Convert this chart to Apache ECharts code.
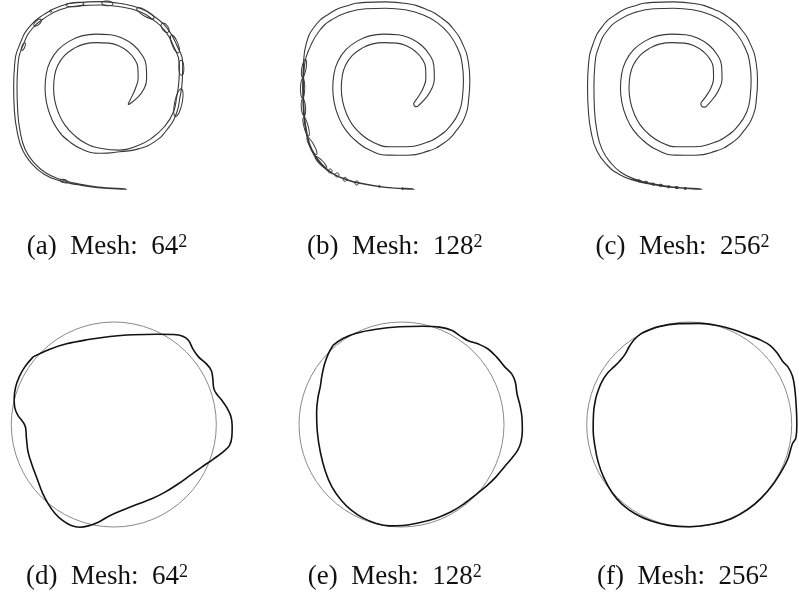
<!DOCTYPE html>
<html>
<head>
<meta charset="utf-8">
<script src="https://cdn.jsdelivr.net/npm/echarts@6/dist/echarts.min.js"></script>
<style>
  html, body { margin: 0; padding: 0; background: #ffffff; }
  #chart { width: 799px; height: 596px; }
</style>
</head>
<body>
<div id="chart"></div>
<script>
// ---- Sub-figure captions ----
const subLabels = ['(a)', '(b)', '(c)', '(d)', '(e)', '(f)'];
const meshSizes = [64, 128, 256, 64, 128, 256];

// ---- Stretched interface (top row): centre line of the spiral filament ----
// from the inner tip (first point) to the end of the outer tail (last point)
const centreX = [0.4825, 0.505, 0.524, 0.534, 0.5325, 0.5175, 0.49, 0.455, 0.411, 0.361,
  0.311, 0.2675, 0.23, 0.2025, 0.189, 0.185, 0.19, 0.205, 0.23, 0.2675,
  0.3175, 0.38, 0.449, 0.5175, 0.574, 0.621, 0.655, 0.6675, 0.671, 0.666,
  0.6475, 0.614, 0.5675, 0.511, 0.4425, 0.3675, 0.2925, 0.224, 0.161, 0.111,
  0.0775, 0.061, 0.0575, 0.06, 0.07, 0.09, 0.124, 0.1675, 0.224, 0.2925,
  0.3675, 0.474];
const centreY = [0.36, 0.3875, 0.419, 0.456, 0.50, 0.5375, 0.569, 0.591, 0.604, 0.606,
  0.60, 0.581, 0.5525, 0.5125, 0.469, 0.419, 0.369, 0.319, 0.2725, 0.2325,
  0.20, 0.184, 0.184, 0.1975, 0.225, 0.269, 0.325, 0.3875, 0.45, 0.5125,
  0.575, 0.631, 0.675, 0.706, 0.725, 0.731, 0.729, 0.716, 0.6875, 0.644,
  0.581, 0.506, 0.425, 0.3375, 0.256, 0.1875, 0.1375, 0.10, 0.075, 0.059,
  0.0475, 0.04];
// on the coarsest mesh the outer turn sits slightly further out
const centreX64 = [0.4825, 0.505, 0.524, 0.534, 0.5325, 0.5175, 0.49, 0.455, 0.411, 0.361,
  0.311, 0.2675, 0.23, 0.2025, 0.189, 0.185, 0.19, 0.205, 0.23, 0.2675,
  0.3175, 0.38, 0.449, 0.5175, 0.574, 0.621, 0.655, 0.669, 0.6775, 0.679,
  0.656, 0.6225, 0.5775, 0.525, 0.45, 0.375, 0.2925, 0.225, 0.169, 0.119,
  0.0825, 0.061, 0.0575, 0.06, 0.07, 0.09, 0.124, 0.1675, 0.224, 0.2925,
  0.3675, 0.474];
const centreY64 = [0.36, 0.3875, 0.419, 0.456, 0.50, 0.5375, 0.569, 0.591, 0.604, 0.606,
  0.60, 0.581, 0.5525, 0.5125, 0.469, 0.419, 0.369, 0.319, 0.2725, 0.2325,
  0.20, 0.184, 0.184, 0.1975, 0.225, 0.269, 0.325, 0.3875, 0.45, 0.506,
  0.581, 0.64, 0.681, 0.7125, 0.731, 0.7375, 0.734, 0.72, 0.691, 0.65,
  0.5875, 0.506, 0.425, 0.3375, 0.256, 0.1875, 0.1375, 0.10, 0.075, 0.059,
  0.0475, 0.04];

// filament thickness along the centre line, one list per mesh
const thicknessA = [0.004, 0.02, 0.03, 0.032, 0.032, 0.032, 0.032, 0.032, 0.032, 0.032,
  0.032, 0.032, 0.032, 0.032, 0.032, 0.032, 0.032, 0.032, 0.032, 0.03,
  0.026, 0.018, 0.006, 0.012, 0.017, 0.015, 0.0125, 0.0125, 0.0125, 0.0125,
  0.0125, 0.0125, 0.0125, 0.0125, 0.0125, 0.0125, 0.0125, 0.0125, 0.0125, 0.0125,
  0.0125, 0.0125, 0.0125, 0.0125, 0.011, 0.01, 0.009, 0.008, 0.006, 0.004,
  0.0025, 0.001];
const thicknessB = [0.02, 0.026, 0.03, 0.032, 0.032, 0.032, 0.032, 0.032, 0.032, 0.032,
  0.032, 0.032, 0.032, 0.032, 0.032, 0.032, 0.032, 0.032, 0.032, 0.032,
  0.032, 0.032, 0.032, 0.032, 0.032, 0.029, 0.027, 0.024, 0.024, 0.024,
  0.024, 0.024, 0.024, 0.024, 0.024, 0.024, 0.024, 0.024, 0.024, 0.024,
  0.018, 0.004, 0.003, 0.003, 0.003, 0.003, 0.003, 0.002, 0.0015, 0.001,
  0.001, 0.001];
const thicknessC = [0.024, 0.027, 0.03, 0.032, 0.032, 0.032, 0.032, 0.032, 0.032, 0.032,
  0.032, 0.032, 0.032, 0.032, 0.032, 0.032, 0.032, 0.032, 0.032, 0.032,
  0.032, 0.032, 0.032, 0.032, 0.032, 0.029, 0.027, 0.024, 0.024, 0.024,
  0.024, 0.024, 0.024, 0.024, 0.024, 0.024, 0.024, 0.024, 0.024, 0.024,
  0.024, 0.024, 0.024, 0.023, 0.022, 0.02, 0.016, 0.01, 0.005, 0.0025,
  0.0015, 0.001];

// broken-off pieces of the filament: [x, y, semi-axis a, semi-axis b, orientation in degrees]
const dropsA = [
  [0.669, 0.365, 0.053, 0.014, 78],
  [0.680, 0.496, 0.028, 0.0094, 92],
  [0.656, 0.585, 0.036, 0.011, 112],
  [0.619, 0.646, 0.02, 0.011, 125],
  [0.545, 0.700, 0.0375, 0.0105, 150],
  [0.4025, 0.7375, 0.021, 0.009, 176],
  [0.281, 0.733, 0.034, 0.008, 5],
  [0.190, 0.708, 0.004, 0.004, 0],
  [0.141, 0.665, 0.0175, 0.008, 40],
  [0.0875, 0.575, 0.015, 0.0055, 68],
  [0.240, 0.071, 0.015, 0.006, 168]
];
const dropsB = [
  [0.061, 0.494, 0.034, 0.008, 80],
  [0.056, 0.419, 0.0375, 0.008, 89],
  [0.059, 0.3475, 0.031, 0.008, 94],
  [0.069, 0.275, 0.036, 0.008, 104],
  [0.091, 0.2025, 0.036, 0.008, 118],
  [0.125, 0.141, 0.030, 0.0075, 135],
  [0.159, 0.109, 0.0075, 0.0075, 0],
  [0.185, 0.094, 0.0075, 0.0075, 0],
  [0.215, 0.0775, 0.0075, 0.0075, 0],
  [0.259, 0.064, 0.0075, 0.0075, 0],
  [0.344, 0.051, 0.003, 0.003, 0],
  [0.431, 0.0425, 0.003, 0.003, 0]
];
const dropsC = [
  [0.240, 0.0715, 0.006, 0.003, 166],
  [0.265, 0.0665, 0.006, 0.003, 168],
  [0.292, 0.0595, 0.006, 0.003, 170],
  [0.320, 0.0555, 0.006, 0.003, 172],
  [0.350, 0.050, 0.005, 0.0025, 174],
  [0.380, 0.0465, 0.005, 0.0025, 175],
  [0.412, 0.0435, 0.004, 0.002, 176]
];

// ---- Recovered interface (bottom row), in units of the initial radius ----
const exactCircle = [[0, 0, 1]];
const shapeD = [
  [-0.787, 0.660], [-0.624, 0.735], [-0.461, 0.787], [-0.265, 0.826], [-0.037, 0.858],
  [0.191, 0.875], [0.419, 0.881], [0.581, 0.878], [0.673, 0.862], [0.728, 0.822],
  [0.770, 0.741], [0.826, 0.660], [0.901, 0.594], [0.950, 0.529], [0.966, 0.448],
  [0.976, 0.350], [1.005, 0.295], [1.054, 0.236], [1.103, 0.164], [1.142, 0.080],
  [1.155, -0.018], [1.152, -0.116], [1.129, -0.204], [1.064, -0.269], [0.972, -0.337],
  [0.858, -0.415], [0.744, -0.497], [0.630, -0.578], [0.500, -0.660], [0.370, -0.725],
  [0.223, -0.780], [0.077, -0.839], [-0.054, -0.897], [-0.151, -0.953], [-0.249, -0.989],
  [-0.331, -1.002], [-0.422, -0.982], [-0.500, -0.936], [-0.575, -0.865], [-0.640, -0.774],
  [-0.695, -0.669], [-0.748, -0.529], [-0.796, -0.399], [-0.836, -0.269], [-0.852, -0.138],
  [-0.862, -0.024], [-0.891, 0.031], [-0.936, 0.090], [-0.966, 0.164], [-0.972, 0.252],
  [-0.959, 0.360], [-0.923, 0.464], [-0.868, 0.562]
];
const shapeE = [
  [-0.669, 0.771], [-0.571, 0.839], [-0.442, 0.891], [-0.247, 0.930], [-0.019, 0.953],
  [0.208, 0.959], [0.370, 0.950], [0.494, 0.917], [0.571, 0.865], [0.646, 0.820],
  [0.744, 0.787], [0.841, 0.739], [0.929, 0.657], [1.003, 0.567], [1.078, 0.489],
  [1.110, 0.414], [1.127, 0.300], [1.156, 0.187], [1.175, 0.073], [1.179, -0.057],
  [1.166, -0.170], [1.133, -0.252], [1.078, -0.326], [1.003, -0.414], [0.922, -0.511],
  [0.831, -0.599], [0.727, -0.683], [0.614, -0.771], [0.484, -0.852], [0.331, -0.917],
  [0.169, -0.959], [0.013, -0.985], [-0.117, -0.989], [-0.247, -0.966], [-0.377, -0.911],
  [-0.490, -0.836], [-0.588, -0.739], [-0.679, -0.609], [-0.744, -0.453], [-0.792, -0.268],
  [-0.821, -0.073], [-0.828, 0.122], [-0.815, 0.261], [-0.792, 0.372], [-0.776, 0.479],
  [-0.750, 0.593], [-0.711, 0.696]
];
const shapeF = [
  [-0.459, 0.893], [-0.297, 0.955], [-0.102, 0.984], [0.093, 0.987], [0.287, 0.964],
  [0.450, 0.919], [0.580, 0.870], [0.703, 0.821], [0.791, 0.769], [0.862, 0.692],
  [0.911, 0.617], [0.963, 0.562], [1.008, 0.471], [1.031, 0.341], [1.044, 0.179],
  [1.050, 0.000], [1.041, -0.130], [1.008, -0.185], [0.985, -0.260], [0.963, -0.334],
  [0.911, -0.438], [0.813, -0.591], [0.703, -0.718], [0.573, -0.828], [0.411, -0.919],
  [0.222, -0.974], [0.002, -0.997], [-0.200, -0.984], [-0.369, -0.942], [-0.524, -0.873],
  [-0.654, -0.779], [-0.752, -0.666], [-0.833, -0.519], [-0.888, -0.367], [-0.920, -0.211],
  [-0.937, -0.049], [-0.933, 0.114], [-0.914, 0.244], [-0.888, 0.331], [-0.849, 0.422],
  [-0.800, 0.497], [-0.735, 0.562], [-0.680, 0.617], [-0.628, 0.682], [-0.583, 0.763],
  [-0.531, 0.834]
];

// ---- Geometry helpers ----
// closed outline of a filament given its centre line and local thickness,
// with a rounded end at the inner tip
function filamentOutline(xs, ys, ws) {
  const n = xs.length, left = [], right = [], tan = [];
  for (let i = 0; i < n; i++) {
    const a = Math.max(0, i - 1), b = Math.min(n - 1, i + 1);
    let tx = xs[b] - xs[a], ty = ys[b] - ys[a];
    const len = Math.hypot(tx, ty) || 1;
    tx /= len; ty /= len;
    tan.push([tx, ty]);
    const h = ws[i] / 2;
    left.push([xs[i] - ty * h, ys[i] + tx * h]);
    right.push([xs[i] + ty * h, ys[i] - tx * h]);
  }
  const out = left.slice();
  for (let i = n - 1; i >= 0; i--) out.push(right[i]);
  const tx = tan[0][0], ty = tan[0][1], h0 = ws[0] / 2;
  for (let k = 1; k <= 5; k++) {
    const t = k * Math.PI / 6;
    out.push([xs[0] + h0 * (Math.cos(t) * ty - Math.sin(t) * tx),
              ys[0] + h0 * (-Math.cos(t) * tx - Math.sin(t) * ty)]);
  }
  out.push(left[0]);
  return out;
}
function closeLoop(pts) { return pts.concat([pts[0]]); }

function renderDrop(params, api) {
  const c = api.coord([api.value(0), api.value(1)]);
  const s = api.size([api.value(2), api.value(3)]);
  return {
    type: 'ellipse',
    x: c[0], y: c[1],
    rotation: api.value(4) * Math.PI / 180,
    shape: { cx: 0, cy: 0, rx: Math.max(s[0], 1), ry: Math.max(s[1], 1) },
    style: { fill: '#ffffff', stroke: '#3a3a3a', lineWidth: 1 }
  };
}
function renderCircle(params, api) {
  const c = api.coord([api.value(0), api.value(1)]);
  const r = api.size([api.value(2), api.value(2)])[0];
  return {
    type: 'circle',
    shape: { cx: c[0], cy: c[1], r: r },
    style: { fill: 'none', stroke: '#8a8a8a', lineWidth: 1 }
  };
}

// ---- Layout ----
const W = 799;
const panelStep = 287.7;
const grids = [], xAxes = [], yAxes = [], series = [];
const centres = [[centreX64, centreY64], [centreX, centreY], [centreX, centreY]];
const thickness = [thicknessA, thicknessB, thicknessC];
const drops = [dropsA, dropsB, dropsC];
const shapes = [shapeD, shapeE, shapeF];

for (let k = 0; k < 3; k++) {
  // top row: 266.67 px per unit of length
  grids.push({ left: k * panelStep, top: 0, width: 213.33, height: 200, outerBoundsMode: 'none' });
  xAxes.push({ type: 'value', gridIndex: k, min: 0, max: 0.8, show: false });
  yAxes.push({ type: 'value', gridIndex: k, min: 0, max: 0.75, show: false });
}
for (let k = 0; k < 3; k++) {
  // bottom row: 102.5 px per initial radius, circle centred in each panel;
  // every grid is kept inside the canvas so both directions share one scale
  const cx = 113.8 + k * panelStep, cy = 424.5, s = 102.5;
  const xMax = Math.min(1.3, Math.floor(((W - 1 - cx) / s) * 1000) / 1000);
  grids.push({ left: cx - 1.1 * s, top: cy - 1.15 * s, width: (1.1 + xMax) * s, height: 2.3 * s, outerBoundsMode: 'none' });
  xAxes.push({ type: 'value', gridIndex: 3 + k, min: -1.1, max: xMax, show: false });
  yAxes.push({ type: 'value', gridIndex: 3 + k, min: -1.15, max: 1.15, show: false });
}

for (let k = 0; k < 3; k++) {
  series.push({
    type: 'line', xAxisIndex: k, yAxisIndex: k,
    data: filamentOutline(centres[k][0], centres[k][1], thickness[k]),
    showSymbol: false, smooth: 0.5, silent: true, clip: false,
    lineStyle: { color: '#383838', width: 1.1 }
  });
  series.push({
    type: 'custom', xAxisIndex: k, yAxisIndex: k, z: 3, silent: true, clip: false,
    dimensions: ['x', 'y', 'a', 'b', 'angle'],
    encode: { x: 'x', y: 'y' },
    data: drops[k], renderItem: renderDrop
  });
}
for (let k = 0; k < 3; k++) {
  series.push({
    type: 'custom', xAxisIndex: 3 + k, yAxisIndex: 3 + k, silent: true, clip: false,
    dimensions: ['x', 'y', 'r'],
    encode: { x: 'x', y: 'y' },
    data: exactCircle, renderItem: renderCircle
  });
  series.push({
    type: 'line', xAxisIndex: 3 + k, yAxisIndex: 3 + k, z: 3,
    data: closeLoop(shapes[k]),
    showSymbol: false, smooth: 0.4, silent: true, clip: false,
    lineStyle: { color: '#111111', width: 1.6 }
  });
}

const captionX = [107, 107 + panelStep, 107 + 2 * panelStep];
const captionFont = '"Liberation Serif", "DejaVu Serif", serif';
const captions = subLabels.map((lab, i) => ({
  type: 'text',
  x: captionX[i % 3],
  y: i < 3 ? 233 : 563,
  style: {
    text: '{m|' + lab + '  Mesh:  ' + meshSizes[i] + '}{s|2}',
    fill: '#111111',
    align: 'center', textAlign: 'center',
    verticalAlign: 'top', textVerticalAlign: 'top',
    rich: {
      m: { fontFamily: captionFont, fontSize: 27, lineHeight: 27, fill: '#111111', verticalAlign: 'bottom' },
      s: { fontFamily: captionFont, fontSize: 18, lineHeight: 18, fill: '#111111', verticalAlign: 'top' }
    }
  }
}));

const chart = echarts.init(document.getElementById('chart'), null, { renderer: 'canvas' });
chart.setOption({
  animation: false,
  backgroundColor: '#ffffff',
  grid: grids,
  xAxis: xAxes,
  yAxis: yAxes,
  series: series,
  graphic: captions
});
</script>
</body>
</html>
